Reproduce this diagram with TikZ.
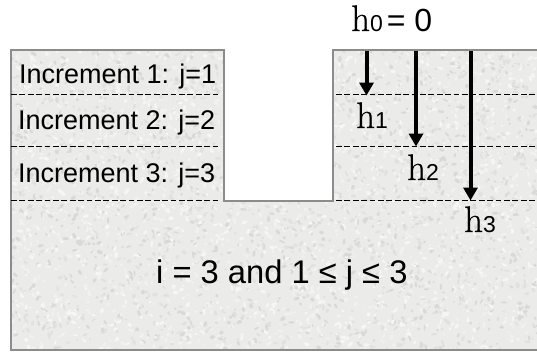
\documentclass[tikz,border=0pt]{standalone}
\usepackage[no-math]{fontspec}
\setmainfont{Liberation Sans}
\newfontfamily\hfont[FakeBold=0.5]{Latin Modern Roman}
\usetikzlibrary{arrows.meta}
\definecolor{soil}{HTML}{EBEBEA}
\definecolor{speckA}{HTML}{D9D9D8}
\definecolor{speckC}{HTML}{E1E1E0}
\definecolor{speckB}{HTML}{F6F6F5}
\definecolor{speckD}{HTML}{F1F1F0}
\definecolor{edgegray}{HTML}{8C8C8C}
\tikzset{
  x=1pt,y=-1pt,
  incr/.style={font=\fontsize{27}{30}\selectfont,text=black,inner sep=0pt,anchor=base west},
  cond/.style={font=\fontsize{32.7}{36}\selectfont,text=black,inner sep=0pt,anchor=base west},
  hlabel/.style={text=black,inner sep=0pt,anchor=base west},
  level/.style={black,line width=1.1pt,dash pattern=on 5.8pt off 2.6pt},
  depth/.style={black,line width=4pt,-{Triangle[length=13pt,width=14pt]},shorten >=-0.5pt},
  outline/.style={edgegray,line width=2.2pt,line join=miter}
}
\newcommand{\hname}[1]{{\fontsize{37}{40}\selectfont\hfont h}{\fontsize{23}{26}\selectfont #1}}
\begin{document}
\begin{tikzpicture}
\useasboundingbox (0,0) rectangle (537,354);
\def\soilpath{(11,50) -- (224,50) -- (224,201) -- (333,201) -- (333,50) -- (537,50) -- (537,350) -- (11,350) -- cycle}
\fill[soil] \soilpath;
\begin{scope}
  \clip \soilpath;
  \pgfmathsetseed{4217}
  \foreach \k in {1,...,4200}{
    \pgfmathsetmacro{\px}{11+rnd*526}
    \pgfmathsetmacro{\py}{50+rnd*300}
    \pgfmathsetmacro{\ra}{1.1+rnd*2.2}
    \pgfmathsetmacro{\rb}{0.8+rnd*1.1}
    \pgfmathsetmacro{\ang}{rnd*180}
    \pgfmathtruncatemacro{\kind}{int(rnd*4)}
    \ifcase\kind\relax
      \def\spk{speckA}\or\def\spk{speckB}\or\def\spk{speckC}\else\def\spk{speckD}\fi
    \fill[\spk,rotate around={\ang:(\px,\py)}] (\px,\py) ellipse ({\ra} and {\rb});
  }
\end{scope}
\draw[outline] (537,50) -- (333,50) -- (333,201) -- (224,201) -- (224,50) -- (11,50) -- (11,350) -- (537,350);

\coordinate (la1) at (11,94.5);  \coordinate (lb1) at (220,94.5);
\coordinate (la2) at (11,146.5); \coordinate (lb2) at (220,146.5);
\coordinate (la3) at (11,200.5); \coordinate (lb3) at (220,200.5);
\coordinate (ra1) at (336,94.5);  \coordinate (rb1) at (537,94.5);
\coordinate (ra2) at (336,146.5); \coordinate (rb2) at (537,146.5);
\coordinate (ra3) at (336,200.5); \coordinate (rb3) at (537,200.5);
\foreach \n in {1,2,3}{
  \draw[level] (la\n) -- (lb\n);
  \draw[level] (ra\n) -- (rb\n);
}

\coordinate (s1) at (366.5,51);  \coordinate (e1) at (366.5,95);
\coordinate (s2) at (416,51);  \coordinate (e2) at (416,146);
\coordinate (s3) at (470.5,51);\coordinate (e3) at (470.5,200);
\draw[depth] (s1) -- (e1);
\draw[depth] (s2) -- (e2);
\draw[depth] (s3) -- (e3);

\node[incr] (t1) at (19,83) {Increment 1: j=1};
\node[incr] (t2) at (18,129) {Increment 2: j=2};
\node[incr] (t3) at (18,182) {Increment 3: j=3};
\node[cond] (t4) at (156,283) {i = 3 and 1 ≤ j ≤ 3};

\node[hlabel] (h0) at (351,31) {\hname{0}\fontsize{32}{34}\selectfont\kern4pt= 0};
\node[hlabel] (h1) at (356,128) {\hname{1}};
\node[hlabel] (h2) at (407,180) {\hname{2}};
\node[hlabel] (h3) at (464,232) {\hname{3}};
\end{tikzpicture}
\end{document}
